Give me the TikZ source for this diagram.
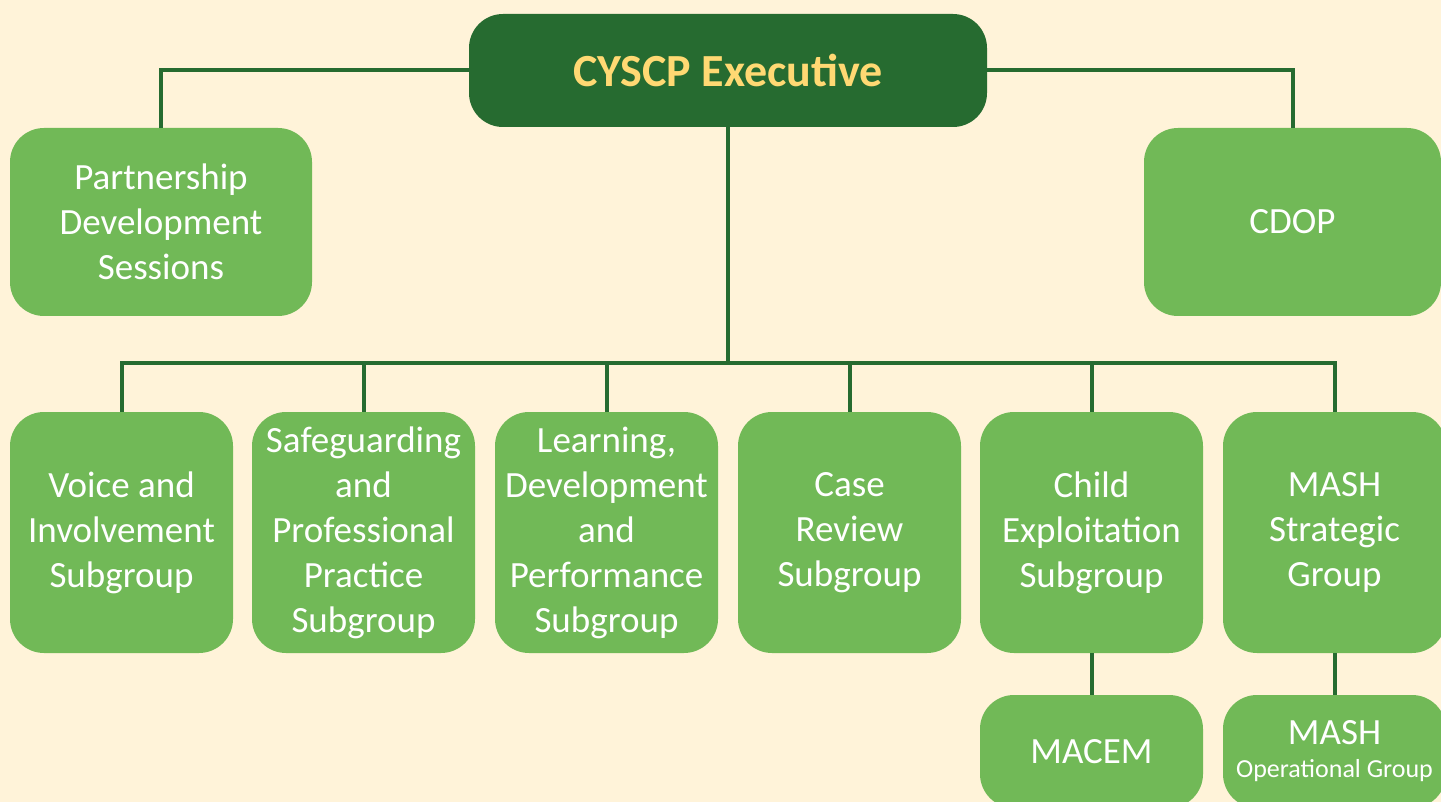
\documentclass[tikz,border=0pt]{standalone}
\usepackage{fontspec}
\setmainfont{Carlito}
\usetikzlibrary{positioning}
\definecolor{exec-green}{RGB}{38,107,48}
\definecolor{group-green}{RGB}{113,185,87}
\definecolor{exec-yellow}{RGB}{255,217,115}
\definecolor{page-cream}{RGB}{255,243,217}

\begin{document}
\begin{tikzpicture}[x=0.5pt,y=-0.5pt,
  group/.style={fill=group-green, rounded corners=17pt, text=white, align=center,
    font=\fontsize{18.5}{22.5}\selectfont, inner sep=0pt,
    minimum width=111.5pt, minimum height=120.5pt},
  link/.style={draw=exec-green, line width=2pt}]
\fill[page-cream] (0,0) rectangle (1441,802);
\useasboundingbox (0,0) rectangle (1441,802);

\node[fill=exec-green, rounded corners=17pt, minimum width=259pt, minimum height=56.5pt,
  text=exec-yellow, font=\fontsize{23}{26}\selectfont\bfseries] (exec) at (728,70.5) {CYSCP Executive};
\node[group, minimum width=151pt, minimum height=94pt] (partnership) at (161,222) {Partnership\\Development\\Sessions};
\node[group, minimum width=148.5pt, minimum height=94pt] (cdop) at (1292.5,222) {CDOP};

\node[group] (voice) at (121.5,532.5) {Voice and\\Involvement\\Subgroup};
\node[group] (safeguarding) at (363.5,532.5) {Safeguarding\\and\\Professional\\Practice\\Subgroup};
\node[group] (learning) at (606.5,532.5) {Learning,\\Development\\and\\Performance\\Subgroup};
\node[group] (casereview) at (849.5,532.5) {Case\\Review\\Subgroup};
\node[group] (exploitation) at (1091.5,532.5) {Child\\Exploitation\\Subgroup};
\node[group] (mashstrategic) at (1334.5,532.5) {MASH\\Strategic\\Group};

\node[group, minimum height=56.5pt] (macem) at (1091.5,751.5) {MACEM};
\node[group, minimum height=56.5pt] (mashoperational) at (1334.5,751.5) {MASH\\[-6pt]{\fontsize{13}{15}\selectfont Operational Group}};

% connectors
\coordinate (bus) at (728,363);
\draw[link] (exec.west) -| (partnership.north);
\draw[link] (exec.east) -| (cdop.north);
\draw[link] (exec.south) -- (bus);
\foreach \n in {voice,safeguarding,learning,casereview,exploitation,mashstrategic}
  \draw[link] (bus) -| (\n.north);
\draw[link] (exploitation.south) -- (macem.north);
\draw[link] (mashstrategic.south) -- (mashoperational.north);
\end{tikzpicture}
\end{document}
